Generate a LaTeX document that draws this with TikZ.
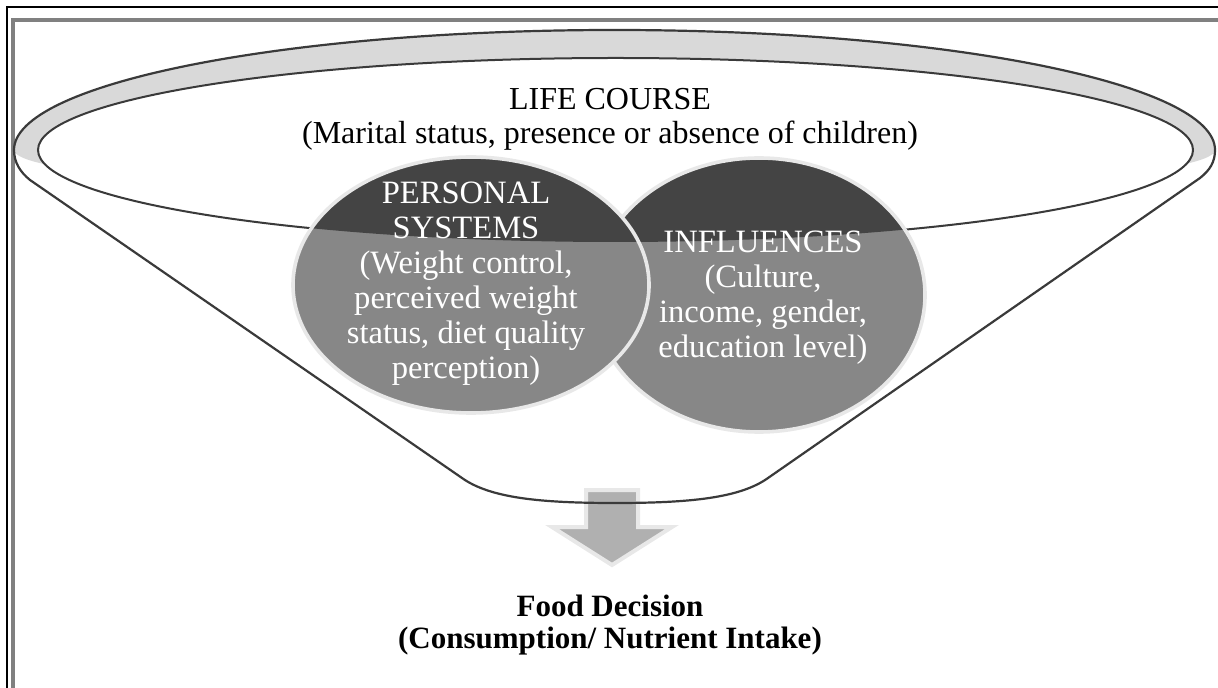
\documentclass[tikz,border=0pt]{standalone}
\usepackage{fontspec}
\setmainfont{Liberation Serif}

\definecolor{rimgray}{HTML}{D9D9D9}
\definecolor{edgegray}{HTML}{3A3A3A}
\definecolor{bubblemid}{HTML}{878787}
\definecolor{bubbledark}{HTML}{444444}
\definecolor{glowgray}{HTML}{E8E8E8}
\definecolor{arrowgray}{HTML}{B0B0B0}
\definecolor{framegray}{HTML}{808080}

\tikzset{
  funnel/.style={draw=edgegray, line width=1.1pt},
  bubble/.style={draw=glowgray, line width=1.8pt},
  bubble text/.style={text=white, align=center, font=\fontsize{16.3}{17.5}\selectfont},
  title text/.style={align=center, font=\fontsize{16}{17}\selectfont},
  decision text/.style={align=center, font=\bfseries\fontsize{15.5}{16}\selectfont}
}

\begin{document}
\begin{tikzpicture}[x=0.5pt, y=-0.5pt]
  \useasboundingbox (0,0) rectangle (1218,688);

  \draw[black, line width=1pt] (7,688) -- (7,7) -- (1218,7);
  \draw[framegray, line width=2pt] (13,688) -- (13,20) -- (1218,20);

  \path[fill=white] (14,150) arc[start angle=180, end angle=360, x radius=600.5, y radius=120]
    .. controls (1215,162) and (1210,170) .. (1200,178) -- (768,478)
    .. controls (740,498) and (690,503) .. (615,503)
    .. controls (540,503) and (490,498) .. (462,478) -- (30,180)
    .. controls (20,172) and (14,162) .. (14,150) -- cycle;
  \fill[rimgray] (14,150) arc[start angle=180, end angle=360, x radius=600.5, y radius=120]
    arc[start angle=0, end angle=180, x radius=600.5, y radius=45];
  \filldraw[fill=white, draw=edgegray, line width=1pt] (615.5,150) ellipse[x radius=577.5, y radius=92];

  \filldraw[fill=arrowgray, draw=glowgray, line width=2pt]
    (586,490) -- (638,490) -- (638,527) -- (672,527) -- (612,565) -- (552,527) -- (586,527) -- cycle;

  \draw[funnel] (14,150) arc[start angle=180, end angle=360, x radius=600.5, y radius=120]
    .. controls (1215,162) and (1210,170) .. (1200,178) -- (768,478)
    .. controls (740,498) and (690,503) .. (615,503)
    .. controls (540,503) and (490,498) .. (462,478) -- (30,180)
    .. controls (20,172) and (14,162) .. (14,150);

  \fill[bubblemid] (759,295) ellipse[x radius=166, y radius=137];
  \begin{scope}
    \clip (615.5,150) ellipse[x radius=577.5, y radius=92];
    \fill[bubbledark] (759,295) ellipse[x radius=166, y radius=137];
  \end{scope}
  \draw[bubble] (759,295) ellipse[x radius=166, y radius=137];

  \fill[bubblemid] (471,285) ellipse[x radius=178, y radius=128];
  \begin{scope}
    \clip (615.5,150) ellipse[x radius=577.5, y radius=92];
    \fill[bubbledark] (471,285) ellipse[x radius=178, y radius=128];
  \end{scope}
  \draw[bubble] (471,285) ellipse[x radius=178, y radius=128];

  \node[title text] (lifecourse) at (610,119) {LIFE COURSE\\(Marital status, presence or absence of children)};
  \node[bubble text] (personal) at (466,284) {PERSONAL\\SYSTEMS\\(Weight control,\\perceived weight\\status, diet quality\\perception)};
  \node[bubble text] (influences) at (763,298) {INFLUENCES\\(Culture,\\income, gender,\\education level)};
  \node[decision text] (decision) at (610,625) {Food Decision\\(Consumption/ Nutrient Intake)};
\end{tikzpicture}
\end{document}
